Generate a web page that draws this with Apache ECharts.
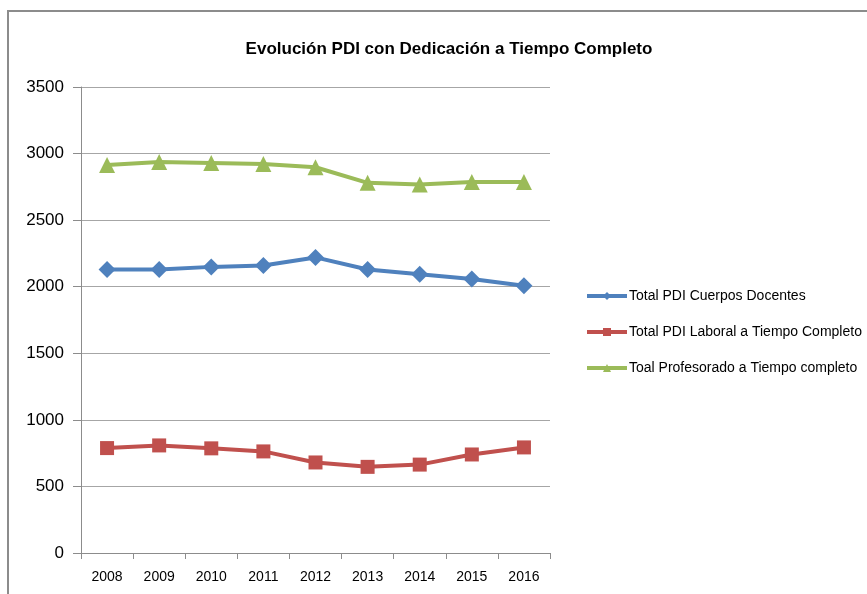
<!DOCTYPE html>
<html>
<head>
<meta charset="utf-8">
<script src="https://cdn.jsdelivr.net/npm/echarts@6/dist/echarts.min.js"></script>
<style>html,body{margin:0;padding:0;background:#fff;}#c{width:867px;height:594px;}</style>
</head>
<body>
<div id="c"></div>
<script>
const categories = ['2008','2009','2010','2011','2012','2013','2014','2015','2016'];
const cuerposDocentes = [2129, 2129, 2149, 2159, 2220, 2129, 2094, 2058, 2008];
const laboralCompleto = [788, 808, 786, 763, 680, 647, 664, 740, 793];
const profesoradoCompleto = [2915, 2937, 2930, 2922, 2897, 2780, 2768, 2786, 2786];
const yTicks = [0, 500, 1000, 1500, 2000, 2500, 3000, 3500];

const FONT = '"Liberation Sans", sans-serif';
const chart = echarts.init(document.getElementById('c'));
chart.setOption({
  animation: false,
  backgroundColor: '#fff',
  graphic: [{
    type: 'rect', silent: true, z: -10,
    shape: { x: 8, y: 11, width: 900, height: 700 },
    style: { fill: 'none', stroke: '#8c8c8c', lineWidth: 2 }
  }],
  title: {
    text: 'Evolución PDI con Dedicación a Tiempo Completo',
    left: 444, top: 36, textAlign: 'center',
    textStyle: { fontFamily: FONT, fontWeight: 'bold', fontSize: 17, color: '#000' }
  },
  legend: {
    orient: 'vertical', left: 580, top: 284, itemGap: 22,
    itemWidth: 40, itemHeight: 10,
    lineStyle: { width: 4 },
    textStyle: { fontFamily: FONT, fontSize: 14, color: '#000', padding: [0,0,0,-3] },
    data: ['Total PDI Cuerpos Docentes', 'Total PDI Laboral a Tiempo Completo', 'Toal Profesorado a Tiempo completo']
  },
  grid: { left: 81, right: 317, top: 87, bottom: 41, containLabel: false },
  xAxis: {
    type: 'category', data: categories, boundaryGap: true,
    axisLine: { lineStyle: { color: '#8c8c8c', width: 1 } },
    axisTick: { show: true, length: 6, lineStyle: { color: '#8c8c8c' } },
    axisLabel: { fontFamily: FONT, fontSize: 14, color: '#000', margin: 17 }
  },
  yAxis: {
    type: 'value', min: 0, max: 3500, interval: 500,
    axisLine: { show: true, lineStyle: { color: '#8c8c8c', width: 1 } },
    axisTick: { show: true, length: 8, lineStyle: { color: '#8c8c8c' } },
    axisLabel: { fontFamily: FONT, fontSize: 17, color: '#000', margin: 17,
      formatter: v => yTicks.includes(v) ? String(v) : '' },
    splitLine: { lineStyle: { color: '#a6a6a6', width: 1 } }
  },
  series: [
    { name: 'Total PDI Cuerpos Docentes', type: 'line', data: cuerposDocentes,
      symbol: 'diamond', symbolSize: 17, color: '#4F81BD',
      lineStyle: { width: 4, color: '#4F81BD' }, itemStyle: { color: '#4F81BD' } },
    { name: 'Total PDI Laboral a Tiempo Completo', type: 'line', data: laboralCompleto,
      symbol: 'rect', symbolSize: 14, color: '#C0504D',
      lineStyle: { width: 4, color: '#C0504D' }, itemStyle: { color: '#C0504D' } },
    { name: 'Toal Profesorado a Tiempo completo', type: 'line', data: profesoradoCompleto,
      symbol: 'triangle', symbolSize: 16, color: '#9BBB59',
      lineStyle: { width: 4, color: '#9BBB59' }, itemStyle: { color: '#9BBB59' } }
  ]
});
</script>
</body>
</html>
